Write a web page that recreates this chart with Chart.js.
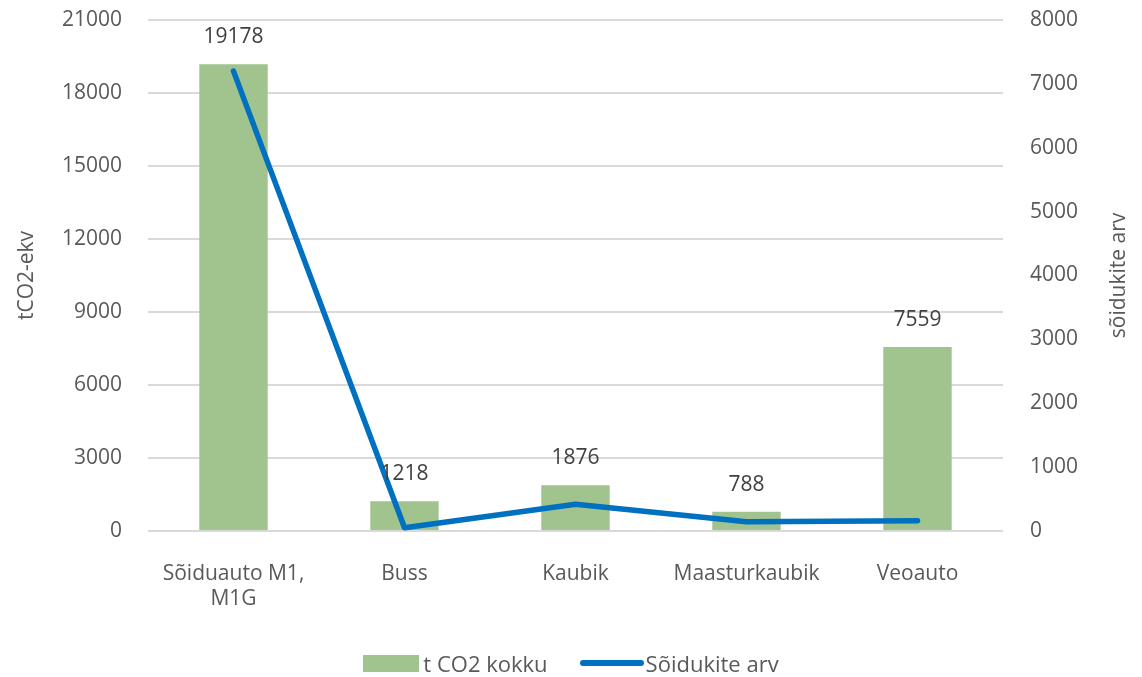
<!DOCTYPE html>
<html>
<head>
<meta charset="utf-8">
<script src="https://cdn.jsdelivr.net/npm/chart.js@4"></script>
<style>
  html, body { margin: 0; padding: 0; background: #fff; }
  #wrap { position: relative; width: 1142px; height: 677px; }
  #legend {
    position: absolute; left: 0; top: 648px; width: 1142px;
    display: flex; justify-content: center; align-items: center;
    font-family: "Open Sans", sans-serif; font-size: 22px; color: #595959;
  }
  .item { display: flex; align-items: center; margin: 0 16px; }
  .box { width: 56px; height: 17px; background: #a1c48e; margin-right: 4px; }
  .ln { width: 64px; height: 6px; border-radius: 3px; background: #0070c0; margin-right: 2px; }
</style>
</head>
<body>
<div id="wrap">
  <canvas id="chart" width="1142" height="677"></canvas>
  <div id="legend">
    <div class="item"><span class="box"></span>t CO2 kokku</div>
    <div class="item"><span class="ln"></span>Sõidukite arv</div>
  </div>
</div>
<script>
// andmed
const categories = [["Sõiduauto M1,", "M1G"], "Buss", "Kaubik", "Maasturkaubik", "Veoauto"];
const co2Total = [19178, 1218, 1876, 788, 7559];
const vehicleCount = [7200, 50, 420, 145, 160];
const leftTicks = [0, 3000, 6000, 9000, 12000, 15000, 18000, 21000];
const rightTicks = [0, 1000, 2000, 3000, 4000, 5000, 6000, 7000, 8000];

const FONT = '"Open Sans", sans-serif';
const GRAY = '#595959';

// väärtused tulpade kohal
const barLabels = {
    id: 'barLabels',
    afterDatasetsDraw(chart) {
        const ctx = chart.ctx;
        const meta = chart.getDatasetMeta(1);
        ctx.save();
        ctx.font = '21px ' + FONT;
        ctx.fillStyle = '#404040';
        ctx.textAlign = 'center';
        ctx.textBaseline = 'middle';
        meta.data.forEach((bar, i) => {
            ctx.fillText(String(co2Total[i]), bar.x, bar.y - 27);
        });
        ctx.restore();
    }
};

// parema telje pealkiri (loetav alt üles)
const rightTitle = {
    id: 'rightTitle',
    afterDraw(chart) {
        const ctx = chart.ctx;
        const area = chart.chartArea;
        ctx.save();
        ctx.translate(1119, (area.top + area.bottom) / 2);
        ctx.rotate(-Math.PI / 2);
        ctx.font = '21px ' + FONT;
        ctx.fillStyle = GRAY;
        ctx.textAlign = 'center';
        ctx.textBaseline = 'middle';
        ctx.fillText('sõidukite arv', 0, 0);
        ctx.restore();
    }
};

new Chart(document.getElementById('chart'), {
    data: {
        labels: categories,
        datasets: [
            {
                type: 'line',
                label: 'Sõidukite arv',
                data: vehicleCount,
                yAxisID: 'y1',
                borderColor: '#0070c0',
                borderWidth: 5.5,
                borderCapStyle: 'round',
                borderJoinStyle: 'round',
                pointRadius: 0,
                tension: 0,
                order: 0
            },
            {
                type: 'bar',
                label: 't CO2 kokku',
                data: co2Total,
                yAxisID: 'y',
                backgroundColor: '#a1c48e',
                barPercentage: 0.4,
                categoryPercentage: 1,
                order: 1
            }
        ]
    },
    options: {
        responsive: false,
        animation: false,
        layout: { padding: { top: 20, bottom: 0 } },
        plugins: {
            legend: { display: false },
            tooltip: { enabled: false }
        },
        scales: {
            x: {
                grid: { display: false },
                border: { display: false },
                ticks: { color: GRAY, font: { family: FONT, size: 21 }, padding: 22, maxRotation: 0 },
                afterFit: s => { s.height = 146; }
            },
            y: {
                position: 'left',
                min: 0, max: 21000,
                afterBuildTicks: s => { s.ticks = leftTicks.map(v => ({ value: v })); },
                grid: { color: '#d9d9d9', lineWidth: 2, drawTicks: false },
                border: { display: false },
                ticks: { color: GRAY, font: { family: FONT, size: 21 }, padding: 26, callback: v => String(v) },
                title: { display: true, text: 'tCO2-ekv', color: GRAY, font: { family: FONT, size: 21 }, padding: { top: 14, bottom: 0 } },
                afterFit: s => { s.width = 148; s.paddingTop = 0; s.paddingBottom = 0; }
            },
            y1: {
                position: 'right',
                min: 0, max: 8000,
                afterBuildTicks: s => { s.ticks = rightTicks.map(v => ({ value: v })); },
                grid: { display: false, drawTicks: false },
                border: { display: false },
                ticks: { color: GRAY, font: { family: FONT, size: 21 }, padding: 27, callback: v => String(v) },
                afterFit: s => { s.width = 139; s.paddingTop = 0; s.paddingBottom = 0; }
            }
        }
    },
    plugins: [barLabels, rightTitle]
});
</script>
</body>
</html>
